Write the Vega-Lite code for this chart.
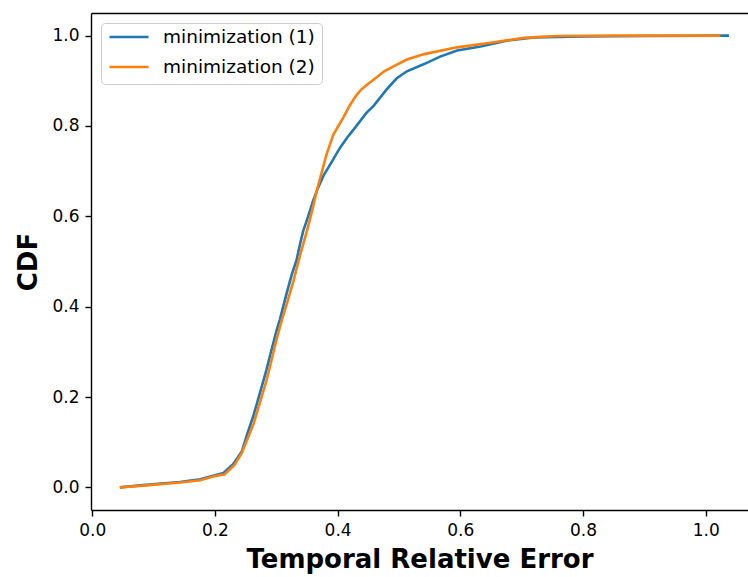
{
  "$schema": "https://vega.github.io/schema/vega-lite/v6.json",
  "autosize": {"type": "none"},
  "width": 657,
  "height": 497,
  "padding": {"left": 91, "top": 13, "right": 0, "bottom": 67},
  "background": "white",
  "config": {
    "font": "DejaVu Sans",
    "view": {"stroke": null},
    "axis": {
      "grid": false,
      "domainColor": "black",
      "domainWidth": 1.4,
      "tickColor": "black",
      "tickWidth": 1.4,
      "tickSize": 6,
      "labelFont": "DejaVu Sans",
      "labelFontSize": 17,
      "labelColor": "black",
      "labelPadding": 6,
      "titleFont": "DejaVu Sans",
      "titleFontSize": 26,
      "titleFontWeight": "bold",
      "titleColor": "black"
    }
  },
  "data": {
    "values": [
      {"series": "minimization (1)", "x": 0.045, "y": 0.0},
      {"series": "minimization (1)", "x": 0.083, "y": 0.005},
      {"series": "minimization (1)", "x": 0.143, "y": 0.012},
      {"series": "minimization (1)", "x": 0.176, "y": 0.018},
      {"series": "minimization (1)", "x": 0.197, "y": 0.026},
      {"series": "minimization (1)", "x": 0.214, "y": 0.032},
      {"series": "minimization (1)", "x": 0.23, "y": 0.052},
      {"series": "minimization (1)", "x": 0.244, "y": 0.08},
      {"series": "minimization (1)", "x": 0.252, "y": 0.115},
      {"series": "minimization (1)", "x": 0.263, "y": 0.16},
      {"series": "minimization (1)", "x": 0.273, "y": 0.207},
      {"series": "minimization (1)", "x": 0.284, "y": 0.26},
      {"series": "minimization (1)", "x": 0.292, "y": 0.303},
      {"series": "minimization (1)", "x": 0.3, "y": 0.345},
      {"series": "minimization (1)", "x": 0.306, "y": 0.372},
      {"series": "minimization (1)", "x": 0.317, "y": 0.43},
      {"series": "minimization (1)", "x": 0.325, "y": 0.47},
      {"series": "minimization (1)", "x": 0.333, "y": 0.503},
      {"series": "minimization (1)", "x": 0.339, "y": 0.54},
      {"series": "minimization (1)", "x": 0.344, "y": 0.568},
      {"series": "minimization (1)", "x": 0.352, "y": 0.6},
      {"series": "minimization (1)", "x": 0.36, "y": 0.634},
      {"series": "minimization (1)", "x": 0.368, "y": 0.663},
      {"series": "minimization (1)", "x": 0.377, "y": 0.69},
      {"series": "minimization (1)", "x": 0.388, "y": 0.715},
      {"series": "minimization (1)", "x": 0.404, "y": 0.752},
      {"series": "minimization (1)", "x": 0.416, "y": 0.775},
      {"series": "minimization (1)", "x": 0.426, "y": 0.792},
      {"series": "minimization (1)", "x": 0.447, "y": 0.829},
      {"series": "minimization (1)", "x": 0.459, "y": 0.845},
      {"series": "minimization (1)", "x": 0.48, "y": 0.881},
      {"series": "minimization (1)", "x": 0.496, "y": 0.905},
      {"series": "minimization (1)", "x": 0.513, "y": 0.921},
      {"series": "minimization (1)", "x": 0.541, "y": 0.937},
      {"series": "minimization (1)", "x": 0.568, "y": 0.954},
      {"series": "minimization (1)", "x": 0.595, "y": 0.967},
      {"series": "minimization (1)", "x": 0.633, "y": 0.976},
      {"series": "minimization (1)", "x": 0.677, "y": 0.989},
      {"series": "minimization (1)", "x": 0.72, "y": 0.996},
      {"series": "minimization (1)", "x": 0.8, "y": 0.998},
      {"series": "minimization (1)", "x": 0.9, "y": 0.999},
      {"series": "minimization (1)", "x": 1.038, "y": 1.0},
      {"series": "minimization (2)", "x": 0.045, "y": 0.0},
      {"series": "minimization (2)", "x": 0.083, "y": 0.004},
      {"series": "minimization (2)", "x": 0.143, "y": 0.011},
      {"series": "minimization (2)", "x": 0.176, "y": 0.016},
      {"series": "minimization (2)", "x": 0.197, "y": 0.024},
      {"series": "minimization (2)", "x": 0.216, "y": 0.029},
      {"series": "minimization (2)", "x": 0.232, "y": 0.05},
      {"series": "minimization (2)", "x": 0.244, "y": 0.077},
      {"series": "minimization (2)", "x": 0.263, "y": 0.141},
      {"series": "minimization (2)", "x": 0.284, "y": 0.236},
      {"series": "minimization (2)", "x": 0.3, "y": 0.325},
      {"series": "minimization (2)", "x": 0.308, "y": 0.365},
      {"series": "minimization (2)", "x": 0.318, "y": 0.41},
      {"series": "minimization (2)", "x": 0.328, "y": 0.457},
      {"series": "minimization (2)", "x": 0.338, "y": 0.51},
      {"series": "minimization (2)", "x": 0.35, "y": 0.568},
      {"series": "minimization (2)", "x": 0.358, "y": 0.61},
      {"series": "minimization (2)", "x": 0.366, "y": 0.656},
      {"series": "minimization (2)", "x": 0.374, "y": 0.697},
      {"series": "minimization (2)", "x": 0.382, "y": 0.737},
      {"series": "minimization (2)", "x": 0.393, "y": 0.781},
      {"series": "minimization (2)", "x": 0.409, "y": 0.818},
      {"series": "minimization (2)", "x": 0.42, "y": 0.846},
      {"series": "minimization (2)", "x": 0.43, "y": 0.867},
      {"series": "minimization (2)", "x": 0.438, "y": 0.88},
      {"series": "minimization (2)", "x": 0.448, "y": 0.891},
      {"series": "minimization (2)", "x": 0.459, "y": 0.903},
      {"series": "minimization (2)", "x": 0.476, "y": 0.921},
      {"series": "minimization (2)", "x": 0.491, "y": 0.932},
      {"series": "minimization (2)", "x": 0.513, "y": 0.947},
      {"series": "minimization (2)", "x": 0.541, "y": 0.959},
      {"series": "minimization (2)", "x": 0.595, "y": 0.974},
      {"series": "minimization (2)", "x": 0.649, "y": 0.984},
      {"series": "minimization (2)", "x": 0.704, "y": 0.995},
      {"series": "minimization (2)", "x": 0.758, "y": 0.999},
      {"series": "minimization (2)", "x": 0.85, "y": 1.0},
      {"series": "minimization (2)", "x": 1.024, "y": 1.0}
    ]
  },
  "layer": [
    {
      "mark": {"type": "line", "strokeWidth": 2.6, "clip": true},
      "encoding": {
        "x": {
          "field": "x", "type": "quantitative",
          "scale": {"domain": [-0.002, 1.069], "nice": false, "zero": false},
          "axis": {"values": [0, 0.2, 0.4, 0.6, 0.8, 1.0], "format": ".1f", "title": "Temporal Relative Error", "titlePadding": 8}
        },
        "y": {
          "field": "y", "type": "quantitative",
          "scale": {"domain": [-0.05, 1.05], "nice": false, "zero": false},
          "axis": {"values": [0, 0.2, 0.4, 0.6, 0.8, 1.0], "format": ".1f", "title": "CDF", "titlePadding": 10}
        },
        "color": {
          "field": "series", "type": "nominal",
          "scale": {"domain": ["minimization (1)", "minimization (2)"], "range": ["#1f77b4", "#ff7f0e"]},
          "legend": {
            "title": null,
            "orient": "none",
            "legendX": 10,
            "legendY": 10,
            "symbolType": "stroke",
            "symbolSize": 1521,
            "symbolStrokeWidth": 2.6,
            "clipHeight": 14,
            "rowPadding": 11,
            "labelOffset": 13,
            "labelFont": "DejaVu Sans",
            "labelFontSize": 18.5,
            "labelColor": "black",
            "padding": 7,
            "fillColor": "rgba(255,255,255,0.8)",
            "strokeColor": "#cccccc",
            "cornerRadius": 4
          }
        }
      }
    },
    {
      "mark": {"type": "line", "opacity": 0},
      "encoding": {
        "x": {
          "field": "x", "type": "quantitative",
          "axis": {"orient": "top", "labels": false, "ticks": false, "title": null}
        },
        "y": {"field": "y", "type": "quantitative"},
        "detail": {"field": "series"}
      }
    }
  ],
  "resolve": {"axis": {"x": "independent"}}
}
